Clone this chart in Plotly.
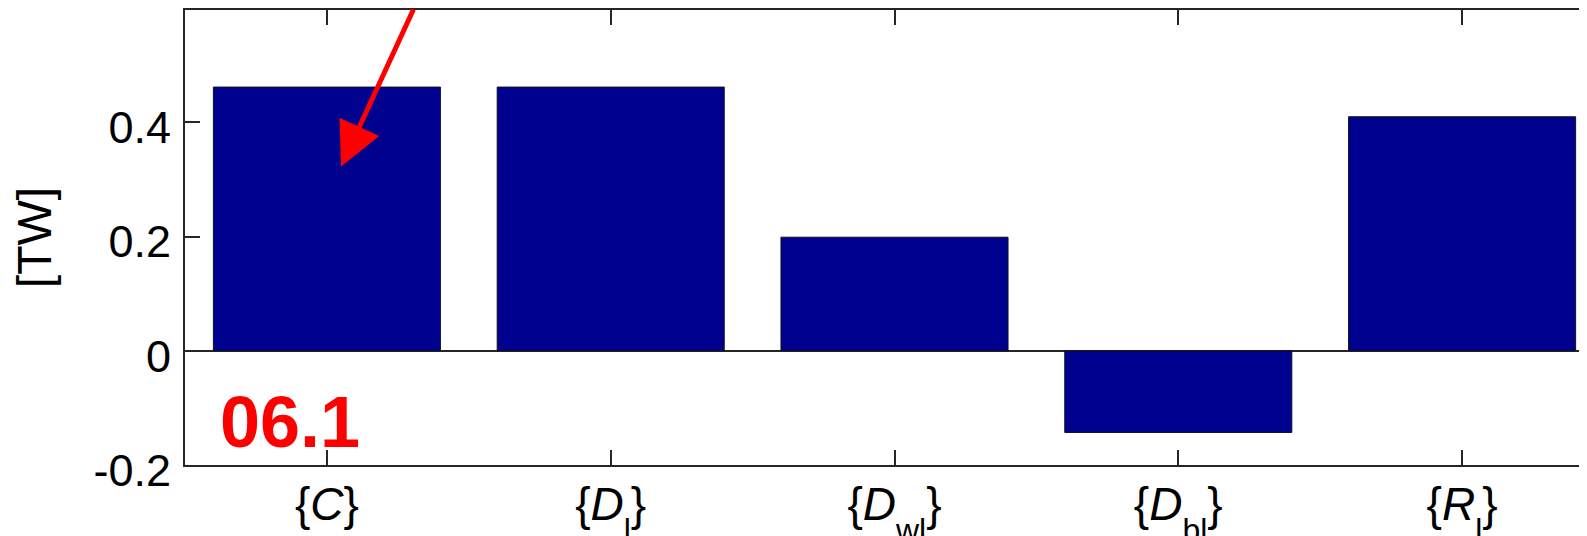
import plotly.graph_objects as go

categories = ["C", "D_l", "D_wl", "D_bl", "R_l"]
SUB = '<span style="font-size:32px;baseline-shift:-21px">{}</span>'
tick_labels = ["{<i>C</i>}",
               "{<i>D</i>" + SUB.format("l") + "}",
               "{<i>D</i>" + SUB.format("wl") + "}",
               "{<i>D</i>" + SUB.format("bl") + "}",
               "{<i>R</i>" + SUB.format("l") + "}"]
values = [0.462, 0.462, 0.199, -0.143, 0.410]
x_pos = [1, 2, 3, 4, 5]
y_ticks = [-0.2, 0, 0.2, 0.4]
y_tick_text = ["-0.2", "0", "0.2", "0.4"]

FONT = "Liberation Sans, Arial, Helvetica, sans-serif"
AX = "#262626"

fig = go.Figure()
fig.add_trace(go.Bar(
    x=x_pos, y=values, width=0.8,
    marker=dict(color="rgb(0,0,143)", line=dict(color="#101020", width=1)),
    hoverinfo="skip",
))

fig.add_annotation(
    x=0.87, y=-0.124, xref="x", yref="y", text="<b>06.1</b>",
    showarrow=False, font=dict(family=FONT, size=72, color="#ff0000"),
    xanchor="center", yanchor="middle",
)
fig.add_annotation(
    x=1.05, y=0.3227, xref="x", yref="y", text="",
    showarrow=True, arrowhead=2, arrowsize=1.75, arrowwidth=5,
    arrowcolor="#ff0000", ax=73, ay=-175, standoff=0,
)

fig.update_layout(
    width=1587, height=536,
    margin=dict(l=177, r=7, t=2, b=79, pad=0, autoexpand=False),
    paper_bgcolor="white", plot_bgcolor="white",
    showlegend=False,
    font=dict(family=FONT, size=45, color="black"),
    bargap=0.2,
)
fig.update_xaxes(
    automargin=False,
    range=[0.5, 0.5 + 1403 / 283.8],
    tickvals=x_pos, ticktext=tick_labels,
    ticks="inside", ticklen=15, tickwidth=1.5, tickcolor=AX,
    showline=True, linecolor=AX, linewidth=2, mirror="ticks",
    showgrid=False, zeroline=False,
    tickfont=dict(family=FONT, size=46, color="black"),
    ticklabelstandoff=-2,
)
fig.update_yaxes(
    automargin=False,
    range=[-0.2, 0.597],
    tickvals=y_ticks, ticktext=y_tick_text,
    ticks="inside", ticklen=15, tickwidth=1.5, tickcolor=AX,
    showline=True, linecolor=AX, linewidth=2, mirror=False,
    showgrid=False, zeroline=True, zerolinecolor=AX, zerolinewidth=1.5,
    tickfont=dict(family=FONT, size=45, color="black"),
    ticklabelstandoff=3, ticklabelshift=5,
    title=dict(text="[TW]", standoff=32, font=dict(family=FONT, size=48, color="black")),
)

fig.write_html("out.html")
